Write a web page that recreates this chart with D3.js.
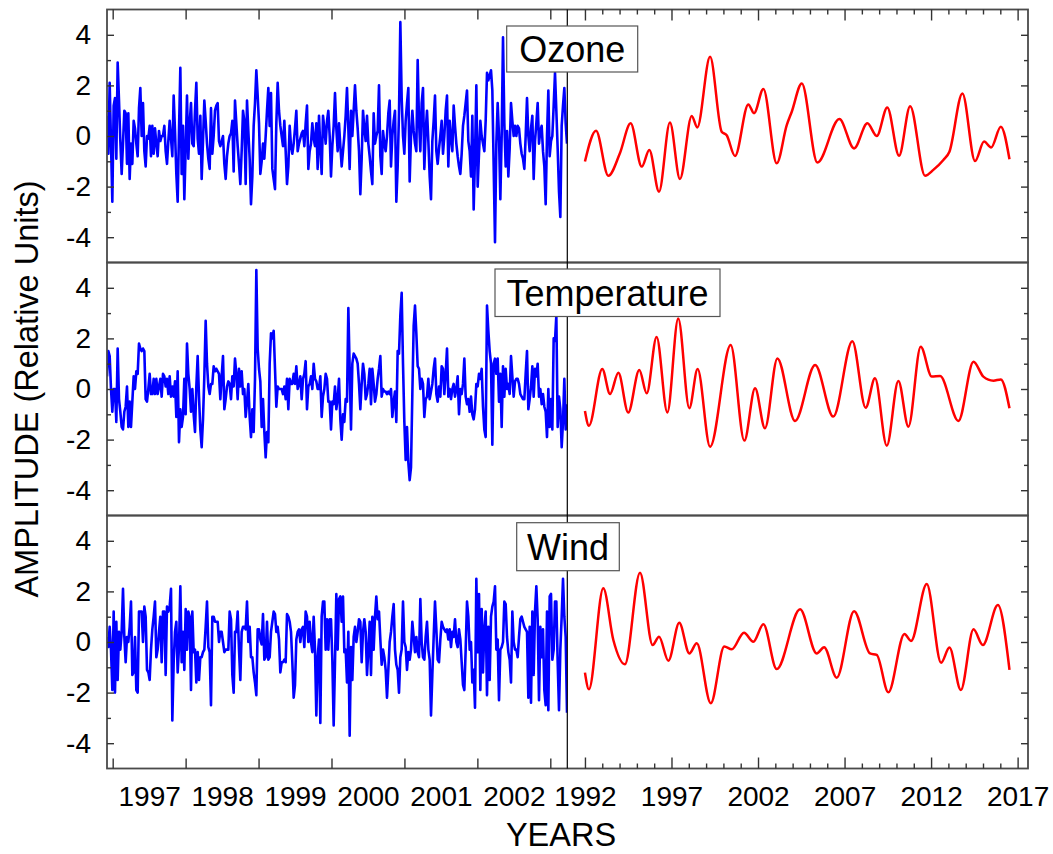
<!DOCTYPE html>
<html>
<head>
<meta charset="utf-8">
<script src="https://cdn.jsdelivr.net/npm/d3@7"></script>
<style>
body { margin: 0; background: #fff; }
text { font-family: "Liberation Sans", Arial, sans-serif; fill: #000; }
</style>
</head>
<body>
<div id="chart"></div>
<script>
// ---- data ----
// weekly-ish observed series (left half), first and last sample time in decimal years
var obsFirstYear = 1996.922, obsLastYear = 2003.229;

var ozoneObs = [0.8,-0.7,2.1,-0.3,-2.6,1.2,1.5,-0.9,2.9,1.4,-0.2,-1.5,-0.3,1.0,0.9,-1.1,0.9,-1.7,-0.3,-1.1,0.6,0.3,-0.3,-0.8,1.1,
  1.9,0.0,1.3,-0.6,-1.2,0.0,-0.1,0.4,-0.8,0.4,-0.7,0.3,-0.3,-0.8,0.2,-0.2,0.0,0.0,0.4,-0.6,-1.1,-0.2,0.6,-0.1,-0.8,
  1.6,0.2,-1.5,-2.6,0.2,2.7,-1.5,0.4,-2.5,-0.5,1.6,-0.9,0.5,1.3,-0.3,-0.4,1.0,2.1,-0.1,-0.7,0.8,-1.7,-0.2,1.4,0.6,
  -0.3,-0.9,-1.3,1.1,-0.7,0.0,1.0,1.2,1.3,-0.2,-0.4,-0.2,0.0,-1.1,-1.7,-0.8,-0.3,0.0,0.1,0.6,-1.4,1.4,0.5,-0.4,-1.1,
  -1.9,-0.6,1.0,0.6,-1.9,1.4,0.2,-0.9,-2.7,-1.6,0.4,1.3,2.6,1.6,0.5,-1.5,-1.0,-0.3,-0.9,0.0,1.0,1.9,0.4,1.7,-1.3,
  -1.7,-2.1,0.5,2.1,1.0,0.4,0.0,-0.4,0.6,-0.6,-1.9,-1.2,0.4,-0.4,-0.7,-0.3,0.3,1.0,-0.6,-0.3,-0.1,0.1,0.2,-0.4,0.5,
  1.2,-1.3,-0.6,-0.3,0.5,-0.1,-0.4,0.5,-1.3,0.8,-0.5,-1.5,0.8,0.3,-0.3,0.6,1.0,0.0,-1.6,-0.4,0.4,1.7,0.3,-0.6,0.5,
  -0.4,-1.2,-0.6,0.0,0.8,1.9,0.3,-1.3,1.0,0.0,1.0,2.0,1.0,0.3,-0.6,-2.3,-0.9,1.0,0.3,-0.2,0.8,-0.3,-0.8,-1.4,-1.9,
  0.9,-0.3,0.0,0.2,2.0,-0.8,-1.5,0.2,-0.3,-0.6,0.0,0.9,1.4,-1.2,0.0,0.6,1.0,-2.6,-1.2,0.9,4.5,1.5,0.0,-0.7,0.6,
  1.3,1.9,-1.8,0.0,1.0,0.2,-0.3,-0.6,3.0,0.6,-0.6,1.3,1.9,-1.3,0.2,1.0,-0.2,-1.6,-2.5,-0.2,0.6,1.6,-0.6,-1.1,-0.5,
  0.0,0.6,-0.7,0.0,1.0,1.6,-1.2,0.6,-0.1,-0.6,1.2,0.4,-0.3,-0.8,-1.2,-1.5,-0.7,0.4,0.8,1.3,1.8,-0.2,-0.6,-1.6,0.8,
  -2.9,-0.8,2.0,-2.0,-0.7,0.6,0.0,-0.3,-0.6,0.6,2.5,2.2,2.4,2.6,1.8,-1.2,-4.2,-0.3,1.3,0.0,-2.5,0.0,3.9,0.5,-1.2,
  0.2,-1.6,-0.5,1.3,0.6,0.0,0.4,0.0,0.4,0.3,-0.3,-0.7,-0.9,-1.3,0.0,1.5,0.0,-0.6,0.3,0.8,-1.7,-0.2,0.5,1.3,-0.3,
  0.2,0.4,-0.6,-1.2,-2.7,0.0,1.8,-0.8,-0.2,0.0,1.2,2.5,1.0,-0.5,-2.2,-3.2,0.4,1.2,1.9,0.5,-0.3];

var temperatureObs = [0.5,1.5,1.3,0.0,-0.9,0.0,0.0,-1.3,1.6,-0.4,-0.9,-1.5,-1.6,-0.9,-0.7,0.1,-1.5,-0.5,-1.5,-0.5,0.5,0.0,0.7,0.6,1.8,
  1.6,1.5,1.6,1.5,-0.4,-0.5,0.0,0.6,-0.2,-0.2,0.4,-0.2,0.4,-0.2,0.1,0.4,-0.3,0.6,0.5,0.1,0.4,-0.2,0.5,-0.3,0.1,
  -0.3,0.3,-1.1,0.7,-2.1,-0.8,-1.5,-1.1,0.4,-1.0,1.8,0.6,0.0,-0.9,0.0,-1.0,-1.7,0.1,1.3,-0.3,-1.6,-2.3,-1.2,0.5,2.7,
  1.0,0.1,-0.2,0.2,0.2,0.9,0.7,0.8,0.7,0.6,-0.4,0.5,1.3,-0.8,-0.4,0.1,0.3,0.2,-0.4,0.5,0.1,1.2,0.6,-0.4,0.8,
  0.1,0.7,-0.2,0.0,-1.1,-0.5,0.2,-1.1,-1.9,-0.8,-1.7,0.4,4.7,1.6,0.8,0.3,-1.5,-0.4,-1.7,-2.7,-1.7,-2.1,1.0,2.2,2.0,
  2.3,0.8,-0.7,0.1,0.0,0.0,0.0,-0.2,0.1,-0.4,0.4,-0.8,0.4,0.2,0.2,0.6,0.2,0.9,0.0,0.2,0.5,-0.4,0.4,0.6,1.1,
  -0.8,0.1,0.2,0.5,0.0,1.0,0.4,0.3,0.0,0.0,0.5,-1.1,-0.3,0.0,0.6,0.4,-0.5,-0.5,-1.6,-0.5,-0.6,0.1,-0.8,-0.4,0.4,
  -1.2,-2.0,-1.0,-1.3,-0.4,-0.5,3.2,0.8,-1.6,1.0,1.4,1.3,1.2,1.0,0.2,-0.8,0.2,1.0,0.6,-0.4,-0.2,0.2,0.8,-0.6,0.8,
  0.2,-0.5,-0.2,0.4,0.8,1.3,-0.3,0.0,-0.1,-0.1,-0.2,-0.1,-0.2,0.0,-1.1,-0.5,-0.1,-1.3,1.5,1.4,2.9,3.8,1.0,-1.3,-2.8,
  -1.5,-2.9,-3.6,-3.1,-0.2,2.5,3.3,2.2,0.9,0.8,0.0,0.4,0.2,-1.1,-0.4,-0.3,0.4,-0.4,-0.1,0.2,0.8,1.2,-0.2,-0.5,0.1,
  -0.3,0.9,0.8,-0.2,0.6,1.6,-0.3,0.0,-0.4,0.0,0.2,-0.3,0.0,0.5,-1.0,0.0,-0.2,0.2,1.2,-0.3,-0.6,-0.4,-0.9,-0.3,-1.0,
  -1.2,-0.8,0.2,0.1,0.6,0.4,0.8,-0.7,-1.6,-1.9,3.3,2.3,1.5,1.0,-2.2,1.0,1.2,0.6,1.2,-0.5,0.6,-1.5,0.9,-0.3,0.8,
  0.0,0.2,-0.2,1.3,0.5,-0.3,0.3,0.4,0.4,0.2,-0.2,-0.3,-0.4,-0.4,0.6,1.5,-0.8,-0.4,0.1,0.9,-0.3,0.8,0.5,1.0,-0.3,
  0.0,-0.6,-0.2,-0.7,-0.9,-1.9,0.0,-1.5,-0.4,-1.6,2.0,1.9,2.9,-1.5,-0.3,-0.8,-2.3,-1.3,0.4,-1.6,-0.6];

var windObs = [0.2,-0.2,0.6,-0.3,-1.9,1.2,-2.0,0.8,-1.5,0.4,-0.3,0.4,2.1,0.2,-0.8,0.2,0.0,0.6,1.6,-1.3,-1.2,0.2,-1.9,-2.0,1.2,
  1.2,1.2,0.0,1.4,1.0,-1.1,-1.2,-1.5,-0.3,0.5,1.0,1.6,-0.6,-0.3,0.4,1.0,-0.8,1.2,1.2,-1.3,1.4,1.2,1.4,2.1,-3.1,
  -0.8,0.4,0.8,-1.2,-0.2,2.2,-0.8,0.4,-1.1,1.3,-0.3,1.2,1.0,-1.9,1.2,-0.4,-0.3,-1.6,-0.4,-1.5,-0.6,-0.6,-0.4,-0.3,0.6,
  1.6,-0.2,-0.4,-2.5,1.0,1.0,0.8,0.8,0.8,0.0,0.4,0.4,0.0,-0.4,-0.3,-0.3,-0.3,1.2,0.9,-1.3,-2.0,0.4,0.4,1.2,-0.3,
  -1.5,0.4,0.6,0.6,0.5,1.6,0.0,0.6,-0.6,-0.6,-1.2,-1.6,-2.1,0.5,0.5,0.1,-0.1,1.1,-0.7,-0.6,0.8,-0.7,-0.6,0.4,0.8,
  1.2,1.1,0.4,0.6,0.1,-1.2,-0.8,-0.8,-0.7,-0.8,1.1,1.0,0.8,0.4,-0.8,-2.2,-1.7,0.1,0.4,0.5,0.0,0.5,0.6,-0.2,1.2,
  1.0,0.0,0.8,0.0,-0.4,1.0,-0.3,-2.9,-0.6,0.1,-3.2,1.0,1.6,1.6,-0.3,0.9,-0.3,0.9,0.9,-0.7,-3.3,-0.8,1.9,-0.3,1.7,
  1.8,0.8,1.8,-0.4,-0.3,-1.6,0.4,-3.7,-0.2,-1.5,0.2,0.6,0.0,0.4,0.9,0.8,-0.8,0.4,0.9,0.4,-1.3,-0.3,0.8,-1.3,1.0,
  -0.3,1.0,1.8,0.9,1.2,0.1,-0.9,-0.3,-0.6,-1.1,-2.2,-1.1,0.0,0.4,1.0,1.5,-0.3,-0.9,-1.1,-2.0,-0.6,-0.3,1.6,0.0,-0.2,
  -1.1,-0.4,-0.7,-0.3,0.8,0.2,-0.4,0.2,-0.4,-0.6,1.7,0.0,-0.6,-0.7,0.2,0.8,-0.3,-0.7,-2.9,-1.3,0.2,1.6,0.5,-0.7,-0.8,
  0.1,0.8,0.6,0.5,0.4,0.5,0.1,0.5,-0.2,0.4,0.2,0.9,0.0,-0.2,0.5,0.1,-0.8,-1.7,-1.9,-0.3,1.6,1.0,-0.3,0.0,-1.6,
  -1.1,-2.6,2.5,-0.4,1.9,-1.9,1.3,-1.2,0.5,1.2,-2.1,0.6,-1.5,1.0,1.4,1.6,2.2,-0.3,0.1,-2.3,-0.3,-0.2,0.0,1.6,1.5,
  0.2,-0.4,-0.7,-1.6,1.2,0.0,-0.3,-0.3,-0.6,0.2,0.9,1.0,0.8,0.6,0.5,0.4,-2.2,0.6,-2.4,1.2,-1.3,1.2,2.2,0.9,-2.3,
  0.6,-0.6,0.5,-1.9,-2.5,1.2,-2.7,1.8,1.9,-0.7,-0.3,1.6,1.6,-0.8,-2.7,-0.3,1.0,2.5,1.0,0.2,-2.8];

// smooth reconstructions (right half): turning points in decimal years
var ozoneFitYears = [1992.0,1992.64,1993.35,1994.02,1994.64,1995.28,1995.72,1996.28,1996.91,1997.49,1998.17,1998.49,1999.23,1999.9,2000.19,2000.67,2001.44,2001.77,2002.31,2003.08,2003.66,2003.95,2004.53,2005.43,2006.7,2007.55,2008.32,2008.86,2009.47,2010.15,2010.79,2011.65,2012.13,2012.71,2013.06,2013.81,2014.54,2015.06,2015.47,2016.03,2016.53];
var ozoneFitValues = [-1.01,0.21,-1.57,-0.68,0.5,-1.21,-0.55,-2.2,0.53,-1.7,0.79,0.34,3.13,0.17,0.03,-0.79,1.25,0.9,1.86,-1.08,0.43,0.96,2.08,-1.05,0.67,-0.49,0.5,0.0,1.13,-0.78,1.18,-1.57,-1.34,-0.95,-0.62,1.68,-0.99,-0.22,-0.45,0.37,-0.92];

var temperatureFitYears = [1992.0,1992.23,1993.0,1993.45,1993.93,1994.5,1995.14,1995.57,1996.14,1996.76,1997.39,1998.03,1998.51,1999.23,2000.42,2001.21,2001.83,2002.4,2003.12,2004.14,2005.3,2006.35,2007.45,2008.22,2008.76,2009.44,2010.11,2010.69,2011.4,2012.04,2012.52,2013.58,2014.45,2015.02,2015.6,2016.03,2016.53];
var temperatureFitValues = [-0.87,-1.45,0.79,-0.2,0.64,-0.93,0.75,-0.17,2.06,-0.93,2.79,-0.76,0.79,-2.28,1.74,-2.04,0.03,-1.55,1.21,-1.26,0.95,-1.09,1.89,-0.74,0.42,-2.24,0.32,-1.49,1.67,0.49,0.51,-1.26,1.08,0.49,0.33,0.38,-0.76];

var windFitYears = [1992.0,1992.23,1993.06,1993.64,1994.31,1995.18,1995.91,1996.28,1996.82,1997.45,1998.03,1998.46,1999.27,2000.05,2000.48,2001.19,2001.73,2002.31,2003.08,2004.43,2005.39,2005.82,2006.55,2007.55,2008.47,2008.86,2009.53,2010.46,2010.84,2011.75,2012.58,2013.06,2013.72,2014.45,2014.99,2015.86,2016.53];
var windFitValues = [-1.21,-1.87,2.12,0.08,-0.88,2.74,-0.12,0.21,-0.74,0.76,-0.45,-0.05,-2.42,-0.18,-0.29,0.37,0.01,0.7,-1.07,1.29,-0.45,-0.21,-1.41,1.22,-0.45,-0.51,-1.99,0.32,0.04,2.29,-0.82,-0.22,-1.9,0.5,-0.12,1.46,-1.1];

var panelNames = ["Ozone", "Temperature", "Wind"];

// axis ticks
var yMajorTicks = [-4, -2, 0, 2, 4];
var yMinorTicks = [-3, -1, 1, 3];
var leftYearTicks = [1997, 1998, 1999, 2000, 2001, 2002, 2003];
var leftYearLabels = [1997, 1998, 1999, 2000, 2001, 2002];
var rightMajorTicks = [1992, 1997, 2002, 2007, 2012, 2017];
var rightMinorTicks = [1993, 1994, 1995, 1996, 1998, 1999, 2000, 2001, 2003, 2004, 2005, 2006,
                       2008, 2009, 2010, 2011, 2013, 2014, 2015, 2016];

// ---- layout ----
var width = 1053, height = 854;
var plotLeft = 107, plotRight = 1028, plotTop = 9.5, plotBottom = 768.5, splitX = 567.3;
var panelH = (plotBottom - plotTop) / 3;
// label box placement per panel
var boxes = [
    {x: 506.7, y: 26, w: 131, h: 46},
    {x: 495, y: 269, w: 225, h: 47.5},
    {x: 516.7, y: 522.7, w: 102.6, h: 48}
];

var obsSeries = [ozoneObs, temperatureObs, windObs];
var fitSeries = [
    d3.zip(ozoneFitYears, ozoneFitValues),
    d3.zip(temperatureFitYears, temperatureFitValues),
    d3.zip(windFitYears, windFitValues)
];

var svg = d3.select("#chart").append("svg")
    .attr("width", width)
    .attr("height", height);

var xLeft = d3.scaleLinear().domain([1996.922, 2003.233]).range([plotLeft, splitX]);
var xRight = d3.scaleLinear().domain([1990.98, 2017.6]).range([splitX, plotRight]);

function styleAxis(g) {
    g.select(".domain").remove();
    g.selectAll(".tick line").attr("stroke", "#333").attr("stroke-width", 1.4);
    g.selectAll(".tick text").attr("font-size", 28).attr("fill", "#000")
        .attr("font-family", '"Liberation Sans", Arial, sans-serif');
}

var linesG = svg.append("g"),
    frameG = svg.append("g"),
    axesG = svg.append("g"),
    labelG = svg.append("g");
var defs = svg.append("defs");

panelNames.forEach(function (name, i) {
    var y0 = plotTop + i * panelH;
    var y = d3.scaleLinear().domain([-5, 5]).range([y0 + panelH, y0]);

    // clips for each half
    defs.append("clipPath").attr("id", "clipL" + i).append("rect")
        .attr("x", plotLeft).attr("y", y0).attr("width", splitX - plotLeft).attr("height", panelH);
    defs.append("clipPath").attr("id", "clipR" + i).append("rect")
        .attr("x", splitX).attr("y", y0).attr("width", plotRight - splitX).attr("height", panelH);

    var obs = obsSeries[i];
    var stepYr = (obsLastYear - obsFirstYear) / (obs.length - 1);
    var obsLine = d3.line()
        .x(function (d, k) { return xLeft(obsFirstYear + k * stepYr); })
        .y(function (d) { return y(d); });

    linesG.append("path")
        .datum(obs)
        .attr("clip-path", "url(#clipL" + i + ")")
        .attr("fill", "none")
        .attr("stroke", "#0000ff")
        .attr("stroke-width", 2.6)
        .attr("stroke-linejoin", "round")
        .attr("d", obsLine);

    var fitLine = d3.line()
        .curve(d3.curveMonotoneX)
        .x(function (d) { return xRight(d[0]); })
        .y(function (d) { return y(d[1]); });

    linesG.append("path")
        .datum(fitSeries[i])
        .attr("clip-path", "url(#clipR" + i + ")")
        .attr("fill", "none")
        .attr("stroke", "#ff0000")
        .attr("stroke-width", 2.5)
        .attr("d", fitLine);

    // panel frame
    frameG.append("rect")
        .attr("x", plotLeft).attr("y", y0)
        .attr("width", plotRight - plotLeft).attr("height", panelH)
        .attr("fill", "none").attr("stroke", "#4a4a4a").attr("stroke-width", 1.8);

    // y axis, left (labels) and right (ticks only), ticks pointing inward
    axesG.append("g").attr("transform", "translate(" + plotLeft + ",0)")
        .call(d3.axisLeft(y).tickValues(yMajorTicks).tickSize(-7).tickPadding(16)
            .tickFormat(function (d) { return String(d); }))
        .call(styleAxis);
    axesG.append("g").attr("transform", "translate(" + plotLeft + ",0)")
        .call(d3.axisLeft(y).tickValues(yMinorTicks).tickSize(-4).tickFormat(""))
        .call(styleAxis);
    axesG.append("g").attr("transform", "translate(" + plotRight + ",0)")
        .call(d3.axisRight(y).tickValues(yMajorTicks).tickSize(-7).tickFormat(""))
        .call(styleAxis);
    axesG.append("g").attr("transform", "translate(" + plotRight + ",0)")
        .call(d3.axisRight(y).tickValues(yMinorTicks).tickSize(-4).tickFormat(""))
        .call(styleAxis);
});

// top x ticks (inward)
axesG.append("g").attr("transform", "translate(0," + plotTop + ")")
    .call(d3.axisTop(xLeft).tickValues(leftYearTicks).tickSize(-10).tickFormat(""))
    .call(styleAxis);
axesG.append("g").attr("transform", "translate(0," + plotTop + ")")
    .call(d3.axisTop(xRight).tickValues(rightMajorTicks).tickSize(-11).tickFormat(""))
    .call(styleAxis);
axesG.append("g").attr("transform", "translate(0," + plotTop + ")")
    .call(d3.axisTop(xRight).tickValues(rightMinorTicks).tickSize(-5).tickFormat(""))
    .call(styleAxis);

// bottom x ticks (inward) and labels
axesG.append("g").attr("transform", "translate(0," + plotBottom + ")")
    .call(d3.axisBottom(xLeft).tickValues(leftYearTicks).tickSize(-10).tickFormat(""))
    .call(styleAxis);
axesG.append("g").attr("transform", "translate(0," + plotBottom + ")")
    .call(d3.axisBottom(xLeft).tickValues(leftYearLabels.map(function (d) { return d + 0.5; }))
        .tickSize(0).tickPadding(18)
        .tickFormat(function (d) { return String(Math.floor(d)); }))
    .call(styleAxis);
axesG.append("g").attr("transform", "translate(0," + plotBottom + ")")
    .call(d3.axisBottom(xRight).tickValues(rightMajorTicks).tickSize(-11)
        .tickFormat(function (d) { return String(d); }))
    .call(function (g) {
        styleAxis(g);
        // labels sit below the edge, not at the inward tick end
        g.selectAll(".tick text").attr("y", 18);
    });
axesG.append("g").attr("transform", "translate(0," + plotBottom + ")")
    .call(d3.axisBottom(xRight).tickValues(rightMinorTicks).tickSize(-5).tickFormat(""))
    .call(styleAxis);

// split line between observed and reconstructed halves
frameG.append("line")
    .attr("x1", splitX).attr("x2", splitX)
    .attr("y1", plotTop).attr("y2", plotBottom)
    .attr("stroke", "#000").attr("stroke-width", 1.2);

// panel labels
panelNames.forEach(function (name, i) {
    var b = boxes[i];
    labelG.append("rect")
        .attr("x", b.x).attr("y", b.y).attr("width", b.w).attr("height", b.h)
        .attr("fill", "#fff").attr("stroke", "#555").attr("stroke-width", 1.2);
    labelG.append("text")
        .attr("x", b.x + b.w / 2).attr("y", b.y + b.h / 2 + 12.8)
        .attr("text-anchor", "middle")
        .attr("font-size", 36)
        .text(name);
});

// axis titles
svg.append("text")
    .attr("transform", "translate(38," + ((plotTop + plotBottom) / 2) + ") rotate(-90)")
    .attr("text-anchor", "middle")
    .attr("font-size", 32.5)
    .text("AMPLITUDE (Relative Units)");

svg.append("text")
    .attr("x", 561).attr("y", 846)
    .attr("text-anchor", "middle")
    .attr("font-size", 32.5)
    .text("YEARS");
</script>
</body>
</html>
